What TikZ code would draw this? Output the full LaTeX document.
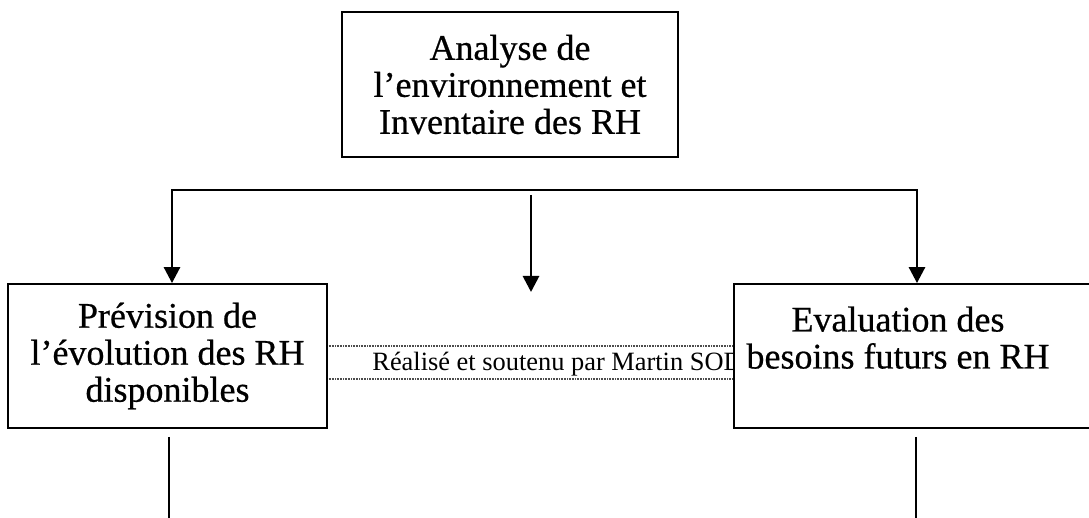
\documentclass[tikz,border=0pt]{standalone}
\usepackage{fontspec}
\setmainfont{Liberation Serif}
\newfontfamily\cadrefont[FakeBold=0.6]{Liberation Serif}
\usetikzlibrary{arrows.meta}
\tikzset{>={Triangle[length=8pt, width=8pt]}}

\begin{document}
\begin{tikzpicture}[
    x = 0.5pt, y = -0.5pt,
    bx/.style = {draw, fill = white, line width = 0.9pt, align = center, inner sep = 0pt, font = \cadrefont\fontsize{18}{18.5}\selectfont},
    a0/.style = {line width = 1.4pt},
    d0/.style = {line width = 0.7pt, black!70, dash pattern = on 0.4pt off 0.4pt},
]
\useasboundingbox (0,0) rectangle (1089,518);

% lignes de pied de page
\coordinate (fa) at (327,346);
\coordinate (fb) at (734,346);
\coordinate (fc) at (327,379);
\coordinate (fd) at (734,379);
\draw[d0] (fa) -- (fb);
\draw[d0] (fc) -- (fd);
\node[anchor = base west, inner sep = 0pt, font = \fontsize{13.2}{15}\selectfont] (pied) at (372,371) {Réalisé et soutenu par Martin SOD};

% les trois cadres
\node[bx, minimum width = 168pt, minimum height = 72.5pt] (analyse) at (510,84.5) {Analyse de\\l’environnement et\\Inventaire des RH};
\node[bx, minimum width = 159.5pt, minimum height = 72pt] (prevision) at (167.5,356) {Prévision de\\l’évolution des RH\\disponibles};
\node[bx, minimum width = 188pt, minimum height = 72pt] (besoins) at (922,356) {Evaluation des\hbox to 24pt{}\\besoins futurs en RH\hbox to 24pt{}\\\mbox{}};

% fleches
\coordinate (bl) at (172,190);
\coordinate (br) at (917,190);
\draw[a0, <->] (bl |- prevision.north) -- (bl) -- (br) -- (br |- besoins.north);

\coordinate (mt) at (531,195);
\coordinate (mb) at (531,292);
\draw[a0, ->] (mt) -- (mb);

% traits du bas
\coordinate (pl) at (169,437);
\coordinate (pr) at (916,437);
\draw[line width = 1.3pt] (pl) -- (169,530);
\draw[line width = 1.3pt] (pr) -- (916,530);

\end{tikzpicture}
\end{document}
